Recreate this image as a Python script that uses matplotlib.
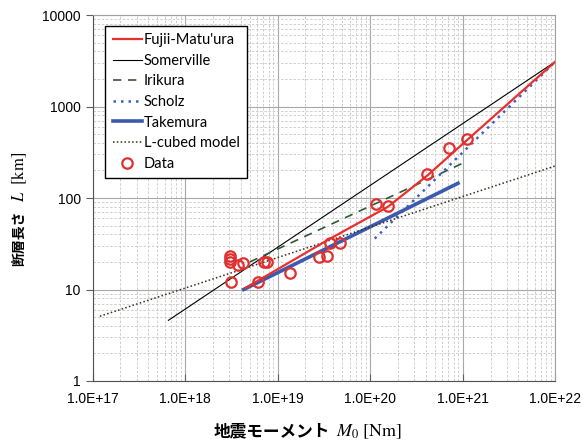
import matplotlib
matplotlib.use("Agg")
import matplotlib.pyplot as plt
from matplotlib.ticker import LogLocator, FixedLocator

plt.rcParams["font.family"] = ["Liberation Sans", "Noto Sans CJK JP"]
plt.rcParams["mathtext.fontset"] = "stix"

# Scaling relations (M0 in Nm, L in km)
fujii_m0 = [4.5e18, 3.7e19, 1.55e20, 4.2e20, 1.1e21, 1.0e22]
fujii_l = [10.4, 36, 80, 178, 425, 3090]

somerville_m0 = [6.6e17, 1.0e22]
somerville_l = [4.6, 3090]

irikura_m0 = [5.0e18, 1.0e21]
irikura_l = [20, 240]

scholz_m0 = [1.12e20, 1.0e22]
scholz_l = [36, 3090]

takemura_m0 = [4.3e18, 8.9e20]
takemura_l = [10, 145]

lcubed_m0 = [1.2e17, 1.0e22]
lcubed_l = [5.1, 224]

# Observed events
data_m0 = [3.06e18, 3.06e18, 3.06e18, 3.74e18, 4.24e18, 3.14e18, 6.15e18,
           7.1e18, 7.7e18, 1.36e19, 2.81e19, 3.43e19, 3.7e19, 4.74e19,
           1.16e20, 1.57e20, 4.13e20, 7.1e20, 1.12e21]
data_l = [23.2, 21.5, 20.0, 18.5, 19.5, 12.1, 12.1,
          20.0, 20.0, 15.1, 22.7, 23.2, 32.2, 32.2,
          86, 82, 183, 352, 442]

xticks = [1e17, 1e18, 1e19, 1e20, 1e21, 1e22]
xticklabels = ["1.0E+17", "1.0E+18", "1.0E+19", "1.0E+20", "1.0E+21", "1.0E+22"]
yticks = [1, 10, 100, 1000, 10000]
yticklabels = ["1", "10", "100", "1000", "10000"]

W, H = 582, 443
fig = plt.figure(figsize=(W / 100, H / 100), dpi=100)
ax = fig.add_axes([0.159, 0.14, 0.795, 0.826])

ax.plot(fujii_m0, fujii_l, color="#e8302c", lw=1.6, label="Fujii-Matu'ura", zorder=4)
ax.plot(somerville_m0, somerville_l, color="black", lw=0.8, label="Somerville", zorder=3)
ax.plot(irikura_m0, irikura_l, color="#2d5a35", lw=1.2, ls=(0, (5, 4)), label="Irikura", zorder=3)
ax.plot(scholz_m0, scholz_l, color="#3f5fc8", lw=1.8, ls=(0, (1, 2)), label="Scholz", zorder=3)
ax.plot(takemura_m0, takemura_l, color="#3a5bb0", lw=2.6, label="Takemura", zorder=3)
ax.plot(lcubed_m0, lcubed_l, color="#3a2a20", lw=1.1, ls=(0, (1, 1.5)), label="L-cubed model", zorder=3)
ax.plot(data_m0, data_l, ls="none", marker="o", ms=7.5, mfc="none", mec="#e03030",
        mew=1.6, label="Data", zorder=5)

ax.set_xscale("log")
ax.set_yscale("log")
ax.set_xlim(1e17, 1e22)
ax.set_ylim(1, 10000)

ax.xaxis.set_major_locator(FixedLocator(xticks))
ax.set_xticklabels(xticklabels)
ax.yaxis.set_major_locator(FixedLocator(yticks))
ax.set_yticklabels(yticklabels)
ax.xaxis.set_minor_locator(LogLocator(base=10, subs=range(2, 10), numticks=20))
ax.yaxis.set_minor_locator(LogLocator(base=10, subs=range(2, 10), numticks=20))
ax.tick_params(axis="both", which="major", labelsize=10, length=5, color="#606060")
ax.tick_params(axis="x", which="major", direction="in", pad=8)
ax.tick_params(axis="both", which="minor", length=0)

ax.grid(True, which="major", color="#a8a8a8", lw=0.8)
ax.grid(True, which="minor", color="#c8c8c8", lw=0.6, ls=(0, (3, 2)))
ax.set_axisbelow(True)
for side in ["top", "right"]:
    ax.spines[side].set_color("#a0a0a0")
for side in ["left", "bottom"]:
    ax.spines[side].set_color("#505050")

# Axis titles: Japanese part and math part drawn as separate texts
fig.text(330 / W, 1 - 432 / H, "地震モーメント", fontsize=12, fontweight="bold",
         ha="right", va="center")
fig.text(336 / W, 1 - 432 / H, "$M_0\\ \\mathrm{[Nm]}$", fontsize=13,
         ha="left", va="center")
fig.text(19 / W, 1 - 266 / H, "断層長さ", fontsize=10, fontweight="bold",
         rotation=90, ha="center", va="bottom")
fig.text(19 / W, 1 - 202 / H, "$L\\ \\ \\mathrm{[km]}$", fontsize=12,
         rotation=90, ha="center", va="bottom")

leg = ax.legend(loc="upper left", bbox_to_anchor=(0.012, 0.99),
                prop={"family": "Lato", "size": 10.5},
                frameon=True, fancybox=False, edgecolor="black", framealpha=1,
                handlelength=2.0, handletextpad=0.15, labelspacing=0.45,
                borderpad=0.5)
leg.get_frame().set_linewidth(1.0)

fig.savefig("out.png", dpi=100)
